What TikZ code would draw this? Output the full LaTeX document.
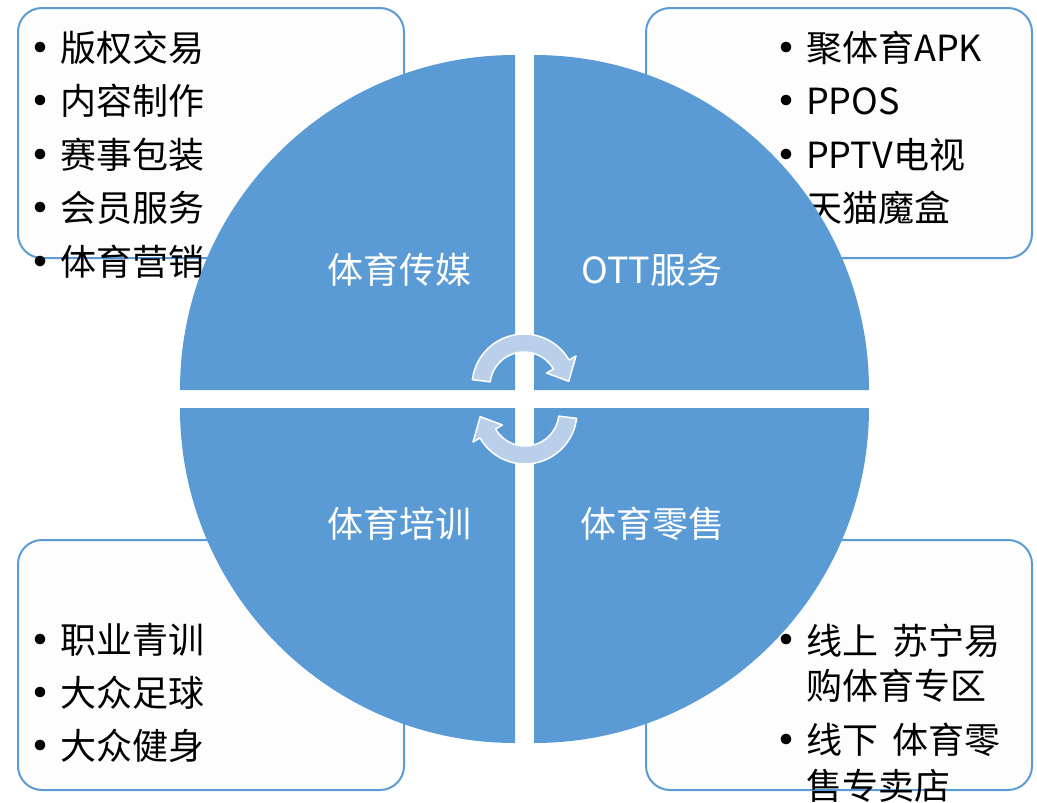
\documentclass[tikz,border=0pt]{standalone}
\usepackage{fontspec}
\setmainfont{Noto Sans CJK SC}
\definecolor{qblue}{HTML}{5B9BD5}
\definecolor{arrowfill}{RGB}{186,207,234}
\definecolor{boxfill}{RGB}{253,253,253}
\begin{document}
\begin{tikzpicture}[x=1pt,y=1pt,
  infobox/.style={draw=qblue, line width=2pt, fill=boxfill, rounded corners=24pt,
    minimum width=386pt, minimum height=250pt, inner sep=0pt},
  item/.style={anchor=base west, font=\fontsize{36}{43}\selectfont, inner sep=0pt, text=black},
  bul/.style={anchor=base, inner sep=0pt, font=\fontsize{50}{60}\selectfont, text=black},
  lab/.style={text=white, font=\fontsize{36}{43}\selectfont, inner sep=0pt},
  quad/.style={fill=qblue},
  carrow/.style={fill=arrowfill, draw=white, line width=1.5pt, line join=round}]
\useasboundingbox (0,0) rectangle (1037,-803);

% info boxes
\node[infobox] (tlbox) at (211,-133) {};
\node[infobox] (trbox) at (839,-133) {};
\node[infobox] (blbox) at (211,-665) {};
\node[infobox] (brbox) at (839,-665) {};

% top-left list
\node[bul] (b1) at (41,-66) {•};
\node[item] (t1) at (60,-61) {版权交易};
\node[bul] (b2) at (41,-119) {•};
\node[item] (t2) at (60,-114) {内容制作};
\node[bul] (b3) at (41,-173) {•};
\node[item] (t3) at (60,-168) {赛事包装};
\node[bul] (b4) at (41,-226) {•};
\node[item] (t4) at (60,-221) {会员服务};
\node[bul] (b5) at (41,-280) {•};
\node[item] (t5) at (60,-275) {体育营销};

% top-right list
\node[bul] (c1) at (786,-66) {•};
\node[item] (u1) at (806,-61) {聚体育APK};
\node[bul] (c2) at (786,-119) {•};
\node[item] (u2) at (806,-114) {PPOS};
\node[bul] (c3) at (786,-173) {•};
\node[item] (u3) at (806,-168) {PPTV电视};
\node[bul] (c4) at (786,-226) {•};
\node[item] (u4) at (806,-221) {天猫魔盒};

% bottom-left list
\node[bul] (d1) at (41,-658) {•};
\node[item] (v1) at (60,-653) {职业青训};
\node[bul] (d2) at (41,-711) {•};
\node[item] (v2) at (60,-706) {大众足球};
\node[bul] (d3) at (41,-764) {•};
\node[item] (v3) at (60,-759) {大众健身};

% bottom-right list
\node[bul] (e1) at (786,-658) {•};
\node[item] (w1) at (806,-654) {线上\hspace{0.4em}苏宁易};
\node[item] (w2) at (806,-699) {购体育专区};
\node[bul] (e2) at (786,-758) {•};
\node[item] (w3) at (806,-753) {线下\hspace{0.4em}体育零};
\node[item] (w4) at (806,-799) {售专卖店};

% circle quadrants
\fill[quad] (515,-390) -- (180,-390) arc[start angle=180, end angle=90, radius=335pt] -- cycle;
\fill[quad] (534,-390) -- (534,-55) arc[start angle=90, end angle=0, radius=335pt] -- cycle;
\fill[quad] (515,-408) -- (515,-743) arc[start angle=270, end angle=180, radius=335pt] -- cycle;
\fill[quad] (534,-408) -- (869,-408) arc[start angle=0, end angle=-90, radius=335pt] -- cycle;

% quadrant labels
\node[lab] (q1) at (399,-270) {体育传媒};
\node[lab] (q2) at (652,-270) {OTT服务};
\node[lab] (q3) at (399,-524) {体育培训};
\node[lab] (q4) at (652,-524) {体育零售};

% circular arrows
\begin{scope}[shift={(524,-386)}]
  \draw[carrow] (173:52pt) arc[start angle=173, end angle=30, radius=52pt]
    -- (30:60pt) -- (6:45pt) -- (30:26pt) -- (30:34pt)
    arc[start angle=30, end angle=173, radius=34pt] -- cycle;
\end{scope}
\begin{scope}[shift={(525,-412)}, rotate=180]
  \draw[carrow] (173:52pt) arc[start angle=173, end angle=30, radius=52pt]
    -- (30:60pt) -- (6:45pt) -- (30:26pt) -- (30:34pt)
    arc[start angle=30, end angle=173, radius=34pt] -- cycle;
\end{scope}
\end{tikzpicture}
\end{document}
